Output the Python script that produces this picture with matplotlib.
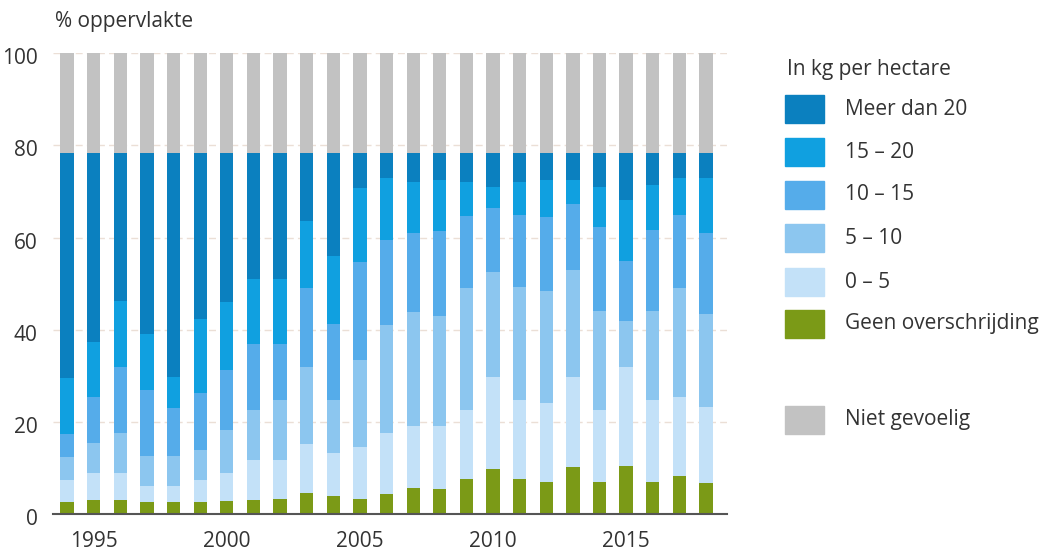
import matplotlib
matplotlib.use("Agg")
import matplotlib.pyplot as plt
import matplotlib.transforms as mtransforms
from matplotlib.patches import Rectangle

plt.rcParams['font.family'] = ['Open Sans', 'DejaVu Sans']

years = list(range(1994, 2019))

# % oppervlakte per klasse (van onder naar boven)
geen = [2.5, 3.0, 3.0, 2.5, 2.5, 2.7, 2.9, 3.0, 3.2, 4.6, 4.0, 3.3, 4.3,
        5.6, 5.4, 7.7, 9.8, 7.7, 6.9, 10.1, 6.9, 10.5, 7.0, 8.2, 6.8]
s0_5 = [4.9, 5.8, 5.8, 3.5, 3.5, 4.7, 5.9, 8.7, 8.5, 10.7, 9.2, 11.3, 13.2,
        13.4, 13.6, 14.9, 20.0, 17.0, 17.1, 19.7, 15.7, 21.5, 17.7, 17.3, 16.5]
s5_10 = [5.0, 6.7, 8.7, 6.5, 6.5, 6.6, 9.4, 10.9, 13.0, 16.7, 11.5, 18.8, 23.5,
         24.9, 24.0, 26.4, 22.7, 24.5, 24.5, 23.2, 21.4, 10.0, 19.3, 23.5, 20.2]
s10_15 = [4.9, 10.0, 14.5, 14.5, 10.5, 12.2, 13.1, 14.4, 12.3, 17.0, 16.5, 21.4, 18.5,
          17.0, 18.5, 15.7, 14.0, 15.8, 15.9, 14.2, 18.4, 13.0, 17.7, 15.9, 17.4]
s15_20 = [12.2, 11.8, 14.3, 12.0, 6.8, 16.1, 14.8, 14.0, 14.0, 14.5, 14.8, 15.9, 13.5,
          11.1, 11.0, 7.3, 4.5, 7.0, 8.1, 5.3, 8.6, 13.2, 9.8, 8.1, 12.1]
meer20 = [48.9, 41.1, 32.1, 39.4, 48.6, 36.1, 32.3, 27.4, 27.4, 14.9, 22.4, 7.7, 5.4,
          6.4, 5.9, 6.4, 7.4, 6.4, 5.9, 5.9, 7.4, 10.2, 6.9, 5.4, 5.4]
niet = [21.6] * 25

series = [geen, s0_5, s5_10, s10_15, s15_20, meer20, niet]
labels = ["Geen overschrijding", "0 – 5", "5 – 10", "10 – 15", "15 – 20",
          "Meer dan 20", "Niet gevoelig"]
colors = ["#7b9a17", "#c3e1f8", "#8cc6ef", "#55acea", "#10a0e0",
          "#0b80bf", "#c2c2c2"]

text_color = "#333333"

fig = plt.figure(figsize=(10.48, 5.5), dpi=100)
ax = fig.add_axes([53 / 1048, 1 - 514 / 550, 674 / 1048, 460.7 / 550])

bottom = [0.0] * len(years)
for vals, col in zip(series, colors):
    ax.bar(years, vals, width=0.5, bottom=bottom, color=col, zorder=2)
    bottom = [b + v for b, v in zip(bottom, vals)]

ax.set_xlim(1993.47, 2018.79)
ax.set_ylim(0, 100)
ax.set_yticks([0, 20, 40, 60, 80, 100])
ax.set_xticks([1995, 2000, 2005, 2010, 2015])
for y in [20, 40, 60, 80, 100]:
    ax.axhline(y, color="#ebdfd6", linestyle=(0, (5, 3)), linewidth=1, zorder=1)

for s in ["top", "right", "left"]:
    ax.spines[s].set_visible(False)
ax.spines["bottom"].set_color("#555555")
ax.spines["bottom"].set_linewidth(1.5)
ax.spines["bottom"].set_zorder(3)
ax.tick_params(axis="both", length=0, labelsize=15, labelcolor=text_color)
ax.tick_params(axis="y", pad=11)
ax.tick_params(axis="x", pad=12)

# y labels sit a little below the gridline in the original
shift = mtransforms.ScaledTranslation(0, -3 / 100, fig.dpi_scale_trans)
for lab in ax.get_yticklabels():
    lab.set_transform(lab.get_transform() + shift)

fig.text(55 / 1048, 1 - 22 / 550, "% oppervlakte", fontsize=15,
         color=text_color, ha="left", va="center")

# legenda
fig.text(787 / 1048, 1 - 69 / 550, "In kg per hectare", fontsize=15,
         color=text_color, ha="left", va="center")
legend_rows = [5, 4, 3, 2, 1, 0, 6]
legend_y = [109, 152, 195, 238, 282, 324, 420]
for idx, yc in zip(legend_rows, legend_y):
    fig.patches.append(Rectangle((785 / 1048, 1 - (yc + 14) / 550), 39 / 1048, 28 / 550,
                                 transform=fig.transFigure, color=colors[idx]))
    fig.text(845 / 1048, 1 - yc / 550, labels[idx], fontsize=15,
             color=text_color, ha="left", va="center")

fig.savefig("out.png", dpi=100)
